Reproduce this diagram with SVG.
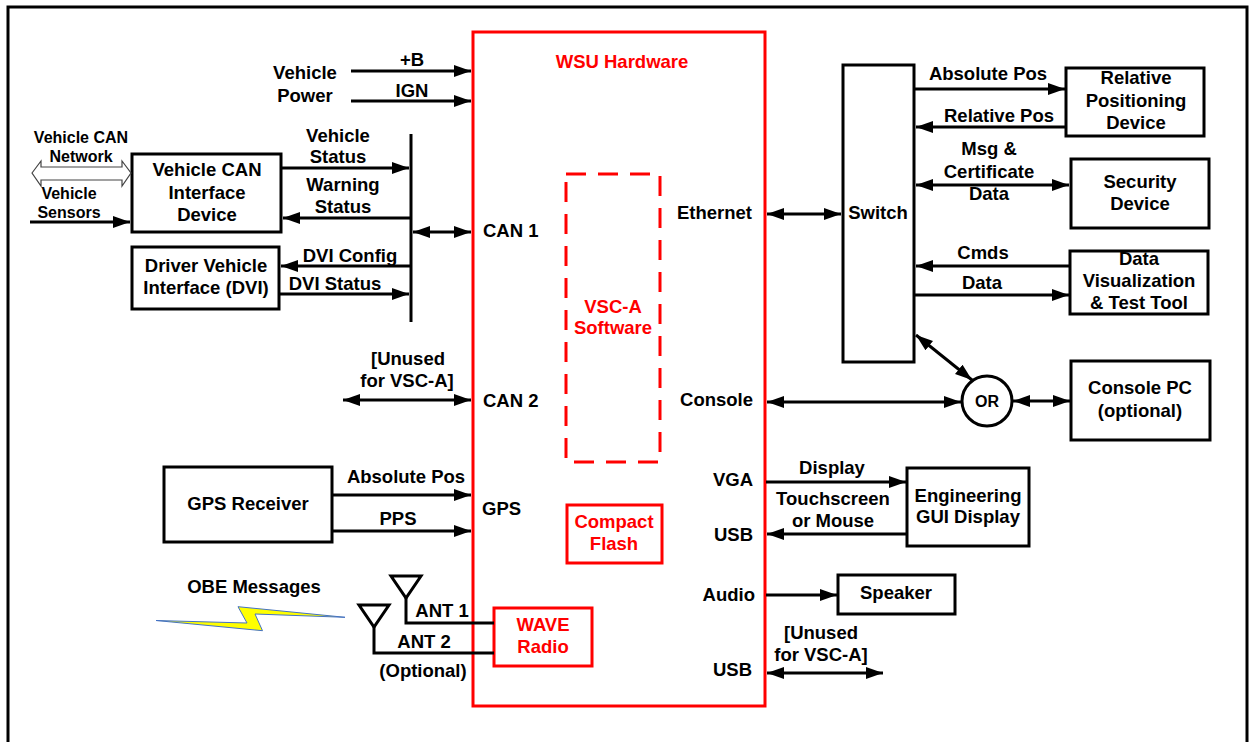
<svg xmlns="http://www.w3.org/2000/svg" width="1249" height="742" viewBox="0 0 1249 742">
<style>
text{font-family:"Liberation Sans",Arial,sans-serif;font-weight:bold;font-size:18.5px;fill:#000;text-anchor:middle}
.s{font-size:16px}
.red{fill:#ff0000}
.st{text-anchor:start}
.en{text-anchor:end}
.box{fill:#fff;stroke:#000;stroke-width:3}
.rbox{fill:#fff;stroke:#ff0000;stroke-width:3}
.ln{fill:none;stroke:#000;stroke-width:3}
.a{marker-end:url(#ah)}
.d{marker-start:url(#ah);marker-end:url(#ah)}
</style>
<defs>
<marker id="ah" markerUnits="userSpaceOnUse" markerWidth="18" markerHeight="13" refX="17" refY="6" orient="auto-start-reverse">
<path d="M0,0 L17,6 L0,12 z" fill="#000"/>
</marker>
</defs>
<rect width="1249" height="742" fill="#fff"/>
<rect x="8" y="7" width="1239" height="760" fill="none" stroke="#000" stroke-width="3"/>

<g id="wsu">
<rect x="473" y="32" width="292" height="674" fill="none" stroke="#ff0000" stroke-width="3"/>
<text x="622" y="68" class="red">WSU Hardware</text>
<text x="483" y="237" class="st">CAN 1</text>
<text x="483" y="407" class="st">CAN 2</text>
<text x="482" y="515" class="st">GPS</text>
<text x="752" y="219" class="en">Ethernet</text>
<text x="753" y="406" class="en">Console</text>
<text x="753" y="486" class="en">VGA</text>
<text x="753" y="541" class="en">USB</text>
<text x="755" y="601" class="en">Audio</text>
<text x="752" y="676" class="en">USB</text>
</g>
<g id="vsca-software">
<rect x="566" y="174" width="94" height="288" fill="none" stroke="#ff0000" stroke-width="3" stroke-dasharray="20 12"/>
<text x="613" y="313" class="red">VSC-A</text>
<text x="613" y="334" class="red">Software</text>
</g>
<g id="compact-flash">
<rect x="567" y="505" width="95" height="58" class="rbox"/>
<text x="614" y="528" class="red">Compact</text>
<text x="614" y="550" class="red">Flash</text>
</g>
<g id="wave-radio">
<rect x="494" y="608" width="98" height="58" class="rbox"/>
<text x="543" y="631" class="red">WAVE</text>
<text x="543" y="653" class="red">Radio</text>
</g>

<g id="vehicle-power">
<text x="305" y="79">Vehicle</text>
<text x="305" y="102">Power</text>
</g>
<g id="vehicle-can-network">
<text x="81" y="143" class="s">Vehicle CAN</text>
<text x="81" y="162" class="s">Network</text>
</g>
<g id="vehicle-sensors">
<text x="69" y="199" class="s">Vehicle</text>
<text x="69" y="218" class="s">Sensors</text>
</g>
<g id="vehicle-can-interface">
<rect x="132" y="154" width="149" height="78" class="box"/>
<text x="207" y="176">Vehicle CAN</text>
<text x="207" y="199">Interface</text>
<text x="207" y="221">Device</text>
</g>
<g id="dvi">
<rect x="132" y="247" width="147" height="62" class="box"/>
<text x="206" y="272">Driver Vehicle</text>
<text x="206" y="294">Interface (DVI)</text>
</g>
<g id="gps-receiver">
<rect x="164" y="467" width="168" height="75" class="box"/>
<text x="248" y="510">GPS Receiver</text>
</g>
<g id="obe-messages">
<text x="254" y="593">OBE Messages</text>
<polygon points="156,620.5 247,623 238,606.7 345,617.3 255,614 262.5,630.7" fill="#ffff00" stroke="#4472c4" stroke-width="1"/>
</g>
<g id="antennas">
<polygon points="391,576 421,576 406,598" class="ln"/>
<polygon points="359,605 389,605 374,627" class="ln"/>
<text x="442" y="617">ANT 1</text>
<text x="424" y="648">ANT 2</text>
<text x="423" y="677">(Optional)</text>
</g>
<g id="switch">
<rect x="843" y="65" width="71" height="297" class="box"/>
<text x="878" y="219">Switch</text>
</g>
<g id="relative-positioning">
<rect x="1066" y="68" width="138" height="68" class="box"/>
<text x="1136" y="84">Relative</text>
<text x="1136" y="107">Positioning</text>
<text x="1136" y="129">Device</text>
</g>
<g id="security-device">
<rect x="1071" y="159" width="138" height="69" class="box"/>
<text x="1140" y="188">Security</text>
<text x="1140" y="210">Device</text>
</g>
<g id="data-visualization">
<rect x="1070" y="251" width="138" height="63" class="box"/>
<text x="1139" y="265">Data</text>
<text x="1139" y="287">Visualization</text>
<text x="1139" y="309">&amp; Test Tool</text>
</g>
<g id="or">
<circle cx="987" cy="401" r="25" class="box"/>
<text x="987" y="407" class="s">OR</text>
</g>
<g id="console-pc">
<rect x="1071" y="361" width="139" height="79" class="box"/>
<text x="1140" y="394">Console PC</text>
<text x="1140" y="417">(optional)</text>
</g>
<g id="engineering-gui">
<rect x="907" y="468" width="122" height="78" class="box"/>
<text x="968" y="502">Engineering</text>
<text x="968" y="523">GUI Display</text>
</g>
<g id="speaker">
<rect x="838" y="575" width="117" height="39" class="box"/>
<text x="896" y="599">Speaker</text>
</g>

<g id="connectors">
<line x1="351" y1="71" x2="471" y2="71" class="ln a"/>
<text x="412" y="66">+B</text>
<line x1="351" y1="101" x2="471" y2="101" class="ln a"/>
<text x="412" y="97">IGN</text>
<polygon points="32,173 41,161 41,167 122,167 122,161 131,173 122,186 122,180 41,180 41,186" fill="#fff" stroke="#444" stroke-width="1.2"/>
<line x1="30" y1="222" x2="130" y2="222" class="ln a"/>
<line x1="411" y1="134" x2="411" y2="322" class="ln"/>
<line x1="281" y1="168" x2="409" y2="168" class="ln a"/>
<text x="338" y="142">Vehicle</text>
<text x="338" y="163">Status</text>
<line x1="411" y1="218" x2="283" y2="218" class="ln a"/>
<text x="343" y="191">Warning</text>
<text x="343" y="213">Status</text>
<line x1="413" y1="232" x2="471" y2="232" class="ln d"/>
<line x1="411" y1="266" x2="281" y2="266" class="ln a"/>
<text x="350" y="262">DVI Config</text>
<line x1="279" y1="294" x2="409" y2="294" class="ln a"/>
<text x="335" y="290">DVI Status</text>
<line x1="343" y1="400" x2="471" y2="400" class="ln d"/>
<text x="408" y="365">[Unused</text>
<text x="407" y="387">for VSC-A]</text>
<line x1="332" y1="495" x2="471" y2="495" class="ln a"/>
<text x="406" y="483">Absolute Pos</text>
<line x1="332" y1="531" x2="471" y2="531" class="ln a"/>
<text x="398" y="525">PPS</text>
<polyline points="406,598 406,623 494,623" class="ln"/>
<polyline points="374,627 374,653 494,653" class="ln"/>
<line x1="767" y1="214" x2="841" y2="214" class="ln d"/>
<line x1="914" y1="89" x2="1065" y2="89" class="ln a"/>
<text x="988" y="80">Absolute Pos</text>
<line x1="1066" y1="127" x2="916" y2="127" class="ln a"/>
<text x="999" y="122">Relative Pos</text>
<line x1="916" y1="185" x2="1069" y2="185" class="ln d"/>
<text x="989" y="155">Msg &amp;</text>
<text x="989" y="178">Certificate</text>
<text x="989" y="200">Data</text>
<line x1="1070" y1="266" x2="916" y2="266" class="ln a"/>
<text x="983" y="259">Cmds</text>
<line x1="914" y1="295" x2="1069" y2="295" class="ln a"/>
<text x="982" y="289">Data</text>
<line x1="916" y1="335" x2="972" y2="380" class="ln d"/>
<line x1="767" y1="402" x2="961" y2="402" class="ln d"/>
<line x1="1013" y1="401" x2="1070" y2="401" class="ln d"/>
<line x1="766" y1="482" x2="906" y2="482" class="ln a"/>
<text x="832" y="474">Display</text>
<line x1="907" y1="534" x2="767" y2="534" class="ln a"/>
<text x="833" y="505">Touchscreen</text>
<text x="833" y="527">or Mouse</text>
<line x1="766" y1="595" x2="837" y2="595" class="ln a"/>
<line x1="767" y1="673" x2="883" y2="673" class="ln d"/>
<text x="821" y="639">[Unused</text>
<text x="821" y="661">for VSC-A]</text>
</g>
</svg>
